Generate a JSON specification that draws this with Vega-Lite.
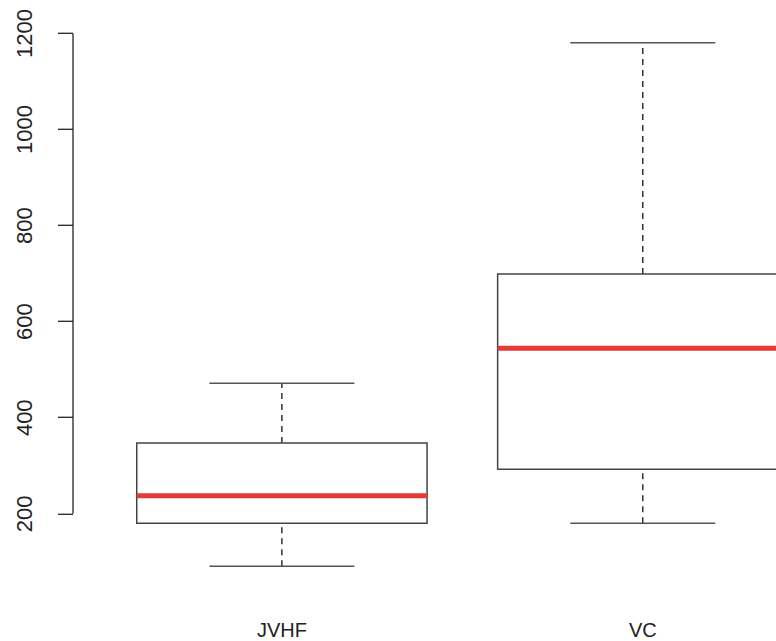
{
  "$schema": "https://vega.github.io/schema/vega-lite/v6.json",
  "autosize": "none",
  "width": 703.5,
  "height": 565.5,
  "padding": {"left": 72.5, "top": 21.8, "right": 0, "bottom": 53.7},
  "background": "white",
  "config": {"view": {"stroke": null}, "font": "Liberation Sans"},
  "data": {"values": [
    {"grp": "JVHF", "lower": 89.6, "q1": 179.2, "median": 236.6, "q3": 346.4, "upper": 470.7},
    {"grp": "VC", "lower": 179.2, "q1": 291.6, "median": 543.5, "q3": 698.2, "upper": 1179.8}
  ]},
  "encoding": {
    "x": {
      "field": "grp", "type": "nominal", "sort": null,
      "scale": {"type": "band", "domain": ["JVHF", "VC"], "range": [0, 779.7], "paddingInner": 0.1956, "paddingOuter": 0.178},
      "axis": {"title": null, "domain": false, "ticks": false, "labelAngle": 0, "labelFontSize": 20, "labelColor": "#222", "labelPadding": 33}
    }
  },
  "layer": [
    {
      "mark": {"type": "rule", "strokeDash": [6, 5], "color": "#111", "strokeWidth": 1.3, "clip": true},
      "encoding": {
        "y": {"field": "q3", "type": "quantitative",
          "scale": {"domain": [200, 1200], "range": [491.5, 11.2], "zero": false, "nice": false},
          "axis": {"title": null, "values": [200, 400, 600, 800, 1000, 1200], "format": "d", "labelAngle": -90, "labelFontSize": 22, "labelColor": "#222", "tickSize": 15, "tickColor": "#222", "domainColor": "#222", "domainWidth": 1.3, "tickWidth": 1.3, "grid": false, "labelPadding": 21}},
        "y2": {"field": "upper"}
      }
    },
    {
      "mark": {"type": "rule", "strokeDash": [6, 5], "color": "#111", "strokeWidth": 1.3, "clip": true},
      "encoding": {
        "y": {"field": "lower", "type": "quantitative"},
        "y2": {"field": "q1"}
      }
    },
    {
      "mark": {"type": "tick", "size": 145, "thickness": 1.5, "color": "#555", "opacity": 1, "clip": true},
      "encoding": {"y": {"field": "upper", "type": "quantitative"}}
    },
    {
      "mark": {"type": "tick", "size": 145, "thickness": 1.5, "color": "#555", "opacity": 1, "clip": true},
      "encoding": {"y": {"field": "lower", "type": "quantitative"}}
    },
    {
      "mark": {"type": "rect", "fill": "white", "fillOpacity": 0, "stroke": "#444", "strokeWidth": 1.5, "clip": true},
      "encoding": {
        "y": {"field": "q1", "type": "quantitative"},
        "y2": {"field": "q3"}
      }
    },
    {
      "mark": {"type": "rect", "fillOpacity": 0, "stroke": "#e53a35", "strokeWidth": 5, "clip": true},
      "encoding": {
        "y": {"field": "median", "type": "quantitative"},
        "y2": {"field": "median"}
      }
    }
  ]
}
